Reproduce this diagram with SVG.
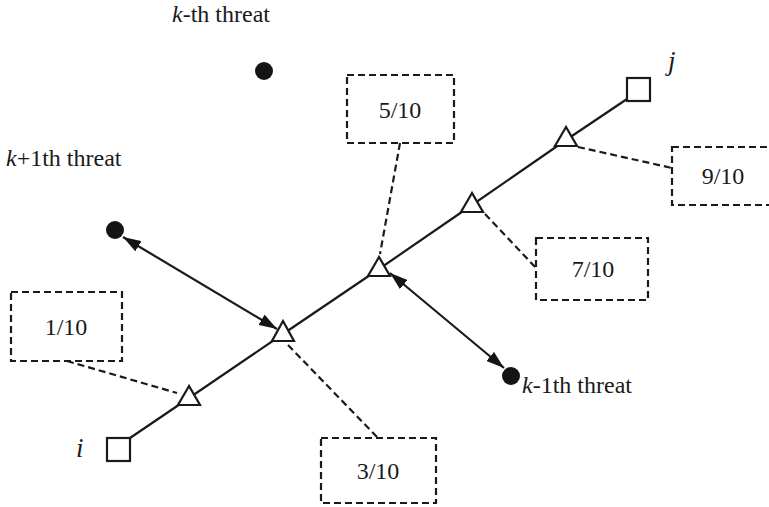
<svg xmlns="http://www.w3.org/2000/svg" width="769" height="507" viewBox="0 0 769 507">
  <defs>
    <style>
      .txt { font-family: "Liberation Serif", "Times New Roman", serif; fill: #1a1a1a; }
      .lbl { font-size: 24px; }
      .frac { font-size: 24px; text-anchor: middle; }
      .var { font-size: 27px; font-style: italic; }
      .it { font-style: italic; }
      .route { fill: none; stroke: #1a1a1a; stroke-width: 2.2; }
      .tri { fill: #fff; stroke: #1a1a1a; stroke-width: 2.2; stroke-linejoin: miter; }
      .end { fill: #fff; stroke: #1a1a1a; stroke-width: 2.2; }
      .box { fill: none; stroke: #1a1a1a; stroke-width: 2.2; stroke-dasharray: 7 4; }
      .lead { fill: none; stroke: #1a1a1a; stroke-width: 2.2; stroke-dasharray: 7 4; }
      .threat { fill: #141414; }
      .link { fill: none; stroke: #1a1a1a; stroke-width: 2.2; marker-start: url(#head); marker-end: url(#head); }
    </style>
    <marker id="head" viewBox="0 0 18 12" refX="18" refY="6" markerWidth="18" markerHeight="12" markerUnits="userSpaceOnUse" orient="auto-start-reverse">
      <path d="M0,0 L18,6 L0,12 Z" fill="#141414"/>
    </marker>
  </defs>

  <!-- connectors: route line, leader lines, threat links -->
  <g id="connectors">
    <polyline class="route" points="130,438 189,398 283,334 379,269 472,205 566,140 627,99"/>
    <line class="lead" x1="67" y1="361" x2="177" y2="393"/>
    <line class="lead" x1="288" y1="345" x2="378" y2="438"/>
    <line class="lead" x1="400" y1="143" x2="380" y2="254"/>
    <line class="lead" x1="485" y1="214" x2="536" y2="268"/>
    <line class="lead" x1="578" y1="147" x2="672" y2="168"/>
    <path class="link" d="M123,237 L277,329"/>
    <path class="link" d="M390,273 L504,368"/>
  </g>

  <!-- route end points -->
  <g id="node-i">
    <rect class="end" x="107" y="438" width="23" height="23"/>
    <text class="txt var" x="76" y="457">i</text>
  </g>
  <g id="node-j">
    <rect class="end" x="627" y="78" width="23" height="23"/>
    <text class="txt var" x="668" y="70">j</text>
  </g>

  <!-- way points along the route -->
  <g id="wp-1"><polygon class="tri" points="189,386 178,405 200,405"/></g>
  <g id="wp-3"><polygon class="tri" points="283,321 272,341 294,341"/></g>
  <g id="wp-5"><polygon class="tri" points="379,257 368,276 390,276"/></g>
  <g id="wp-7"><polygon class="tri" points="472,193 461,212 483,212"/></g>
  <g id="wp-9"><polygon class="tri" points="566,127 555,146 577,146"/></g>

  <!-- fraction labels -->
  <g id="label-1">
    <rect class="box" x="11" y="292" width="111" height="69"/>
    <text class="txt frac" x="66" y="335">1/10</text>
  </g>
  <g id="label-3">
    <rect class="box" x="321" y="438" width="115" height="65"/>
    <text class="txt frac" x="378" y="479">3/10</text>
  </g>
  <g id="label-5">
    <rect class="box" x="347" y="75" width="107" height="68"/>
    <text class="txt frac" x="400" y="118">5/10</text>
  </g>
  <g id="label-7">
    <rect class="box" x="536" y="238" width="112" height="62"/>
    <text class="txt frac" x="593" y="277">7/10</text>
  </g>
  <g id="label-9">
    <rect class="box" x="672" y="147" width="104" height="58"/>
    <text class="txt frac" x="723" y="184">9/10</text>
  </g>

  <!-- threats -->
  <g id="threat-k">
    <circle class="threat" cx="264" cy="71" r="9"/>
    <text class="txt lbl" x="172" y="22"><tspan class="it">k</tspan>-th threat</text>
  </g>
  <g id="threat-k-plus-1">
    <circle class="threat" cx="115" cy="230" r="9"/>
    <text class="txt lbl" x="6" y="166"><tspan class="it">k</tspan>+1th threat</text>
  </g>
  <g id="threat-k-minus-1">
    <circle class="threat" cx="511" cy="376" r="9"/>
    <text class="txt lbl" x="522" y="393"><tspan class="it">k</tspan>-1th threat</text>
  </g>
</svg>
